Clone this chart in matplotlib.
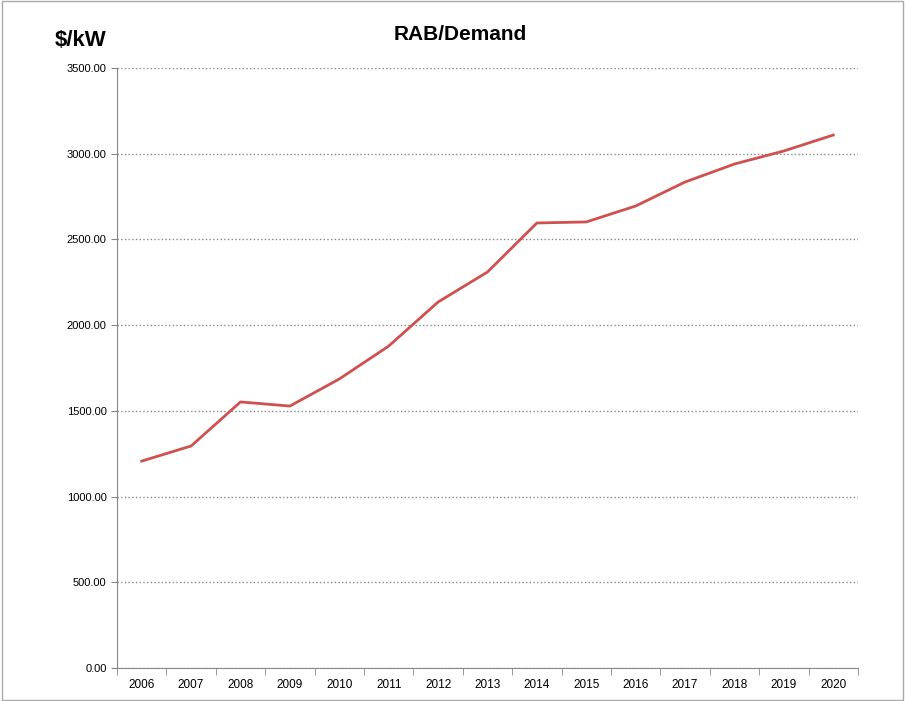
import matplotlib
matplotlib.use("Agg")
import matplotlib.pyplot as plt

years = [str(y) for y in range(2006, 2021)]
values = [1207, 1295, 1552, 1528, 1686, 1878, 2135, 2310, 2596, 2602, 2695, 2835, 2940, 3016, 3109]
yticks = [0, 500, 1000, 1500, 2000, 2500, 3000, 3500]

plt.rcParams['font.family'] = ['Liberation Sans', 'DejaVu Sans']
fig = plt.figure(figsize=(9.05, 7.01), dpi=100)
ax = fig.add_axes([117/905, 1-668/701, (858-117)/905, 600/701])
x = list(range(len(years)))
ax.plot(x, values, color='#d05050', lw=2)
ax.set_xlim(-0.5, len(years)-0.5)
ax.set_ylim(0, 3500)
ax.set_yticks(yticks)
ax.set_yticklabels([f"{v:.2f}" for v in yticks], fontsize=8)
ax.set_xticks(x)
ax.set_xticklabels(years, fontsize=8.5)
ax.set_xticks([i-0.5 for i in range(len(years)+1)], minor=True)
ax.tick_params(axis='x', which='major', length=0, pad=8)
ax.tick_params(axis='x', which='minor', length=5, color='#888')
ax.tick_params(axis='y', length=4, color='#888')
ax.grid(axis='y', color='#888', ls=':', lw=1)
for s in ['top', 'right']:
    ax.spines[s].set_visible(False)
for s in ['left', 'bottom']:
    ax.spines[s].set_color('#888')
fig.text(460/905, 1-35/701, "RAB/Demand", fontsize=15, fontweight='bold', ha='center', va='center')
fig.text(55/905, 1-40/701, "$/kW", fontsize=16, fontweight='bold', ha='left', va='center')
fig.patches.append(plt.Rectangle((0.002, 0.002), 0.996, 0.996, transform=fig.transFigure,
                                 fill=False, ec='#aaa', lw=1))
fig.savefig("out.png", dpi=100)
